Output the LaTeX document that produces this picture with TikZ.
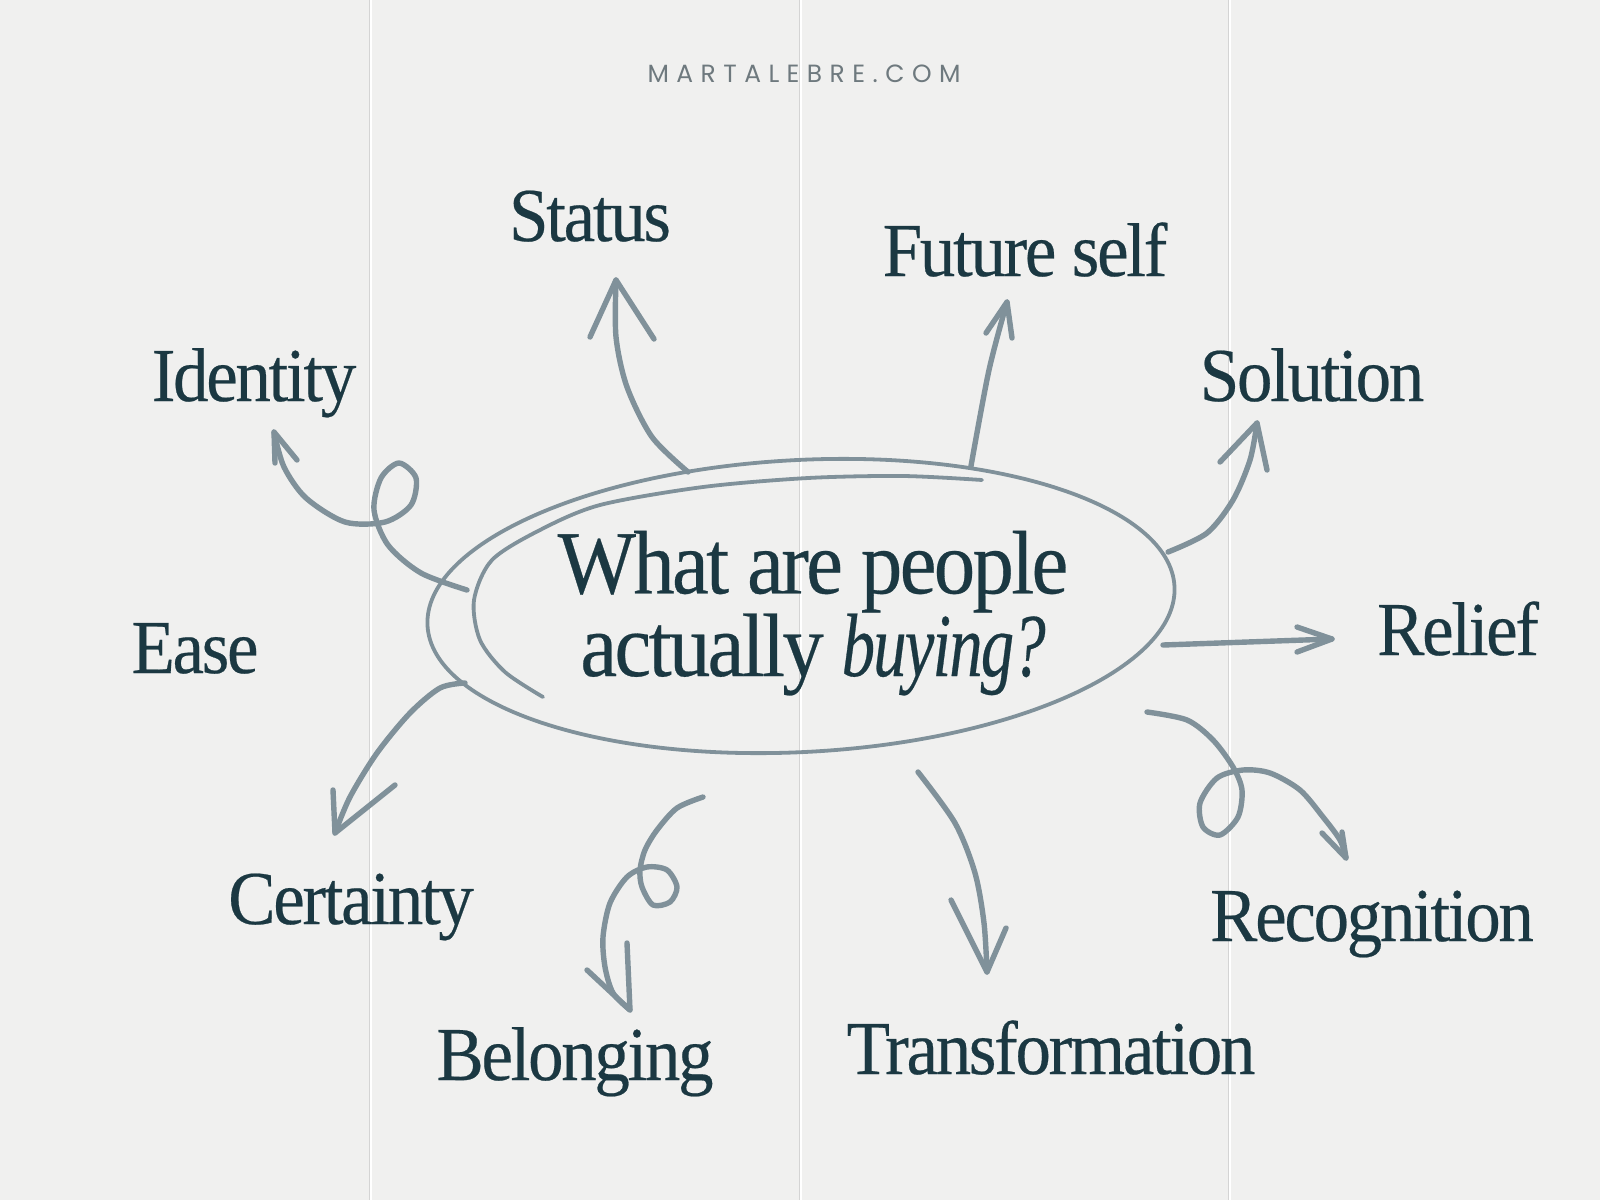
\documentclass[tikz,border=0pt]{standalone}
\usepackage{fontspec}
\newfontfamily\labfont[FakeStretch=0.93, LetterSpace=-3, FakeBold=0.3]{Liberation Serif}
\newfontfamily\qfont[FakeStretch=0.92, LetterSpace=-3, FakeBold=0.3]{Liberation Serif}
\newfontfamily\qitfont[FakeStretch=0.74, LetterSpace=-2, FakeBold=0.3]{Liberation Serif}
\newfontfamily\sitefont[LetterSpace=30]{Poppins}
\definecolor{ink}{RGB}{27,56,66}
\definecolor{penc}{RGB}{128,145,154}
\definecolor{paper}{RGB}{240,240,239}
\definecolor{sitec}{RGB}{110,121,126}
\definecolor{foldc}{RGB}{212,212,212}
\begin{document}
\begin{tikzpicture}[x=1bp,y=-1bp,
  lab/.style={font=\labfont\fontsize{76.5}{80}\selectfont, text=ink, inner sep=0pt, anchor=base},
  qtxt/.style={font=\qfont\fontsize{90.4}{79}\selectfont, text=ink, inner sep=0pt, align=center},
  arrowline/.style={draw=penc, line width=5.4bp, line cap=round, line join=round},
  ring/.style={draw=penc, line width=3.8bp, line cap=round},
  foldline/.style={draw=foldc, line width=1bp},
  foldlight/.style={draw=white, line width=2bp},
]
% paper
\fill[paper] (0,0) rectangle (1600,1200);
\useasboundingbox (0,0) rectangle (1600,1200);
\draw[foldlight] (371,0) -- (371,1200);
\draw[foldline] (369,0) -- (369,1200);
\draw[foldlight] (801,0) -- (801,1200);
\draw[foldline] (799,0) -- (799,1200);
\draw[foldlight] (1230,0) -- (1230,1200);
\draw[foldline] (1228,0) -- (1228,1200);

% header
\node[font=\sitefont\fontsize{25}{26}\selectfont, text=sitec, inner sep=0pt, anchor=base] (site) at (804,82) {MARTALEBRE.COM};

% central question (base anchor = baseline of the last line)
\node[qtxt, anchor=base] (q) at (813,676) {What are people\\actually {\qitfont\itshape buying?}};

% labels
\node[lab] (status)  at (590,241)  {Status};
\node[lab] (future)  at (1025,276) {Future self};
\node[lab] (identity) at (254,401) {Identity};
\node[lab] (solution) at (1312,401) {Solution};
\node[lab] (ease)    at (195,673)  {Ease};
\node[lab] (relief)  at (1458,655) {Relief};
\node[lab] (certainty) at (351,924) {Certainty};
\node[lab] (recog)   at (1372,941) {Recognition};
\node[lab] (belong)  at (575,1080) {Belonging};
\node[lab] (transf)  at (1051,1074) {Transformation};

% ellipse around the question
\coordinate (ec) at (801,606);
\draw[ring, rotate around={3:(ec)}] (ec) ellipse [x radius=374, y radius=146];
\draw[ring] plot[smooth] coordinates {(982,480) (903,476) (808,478) (703,487) (600,505) (540,530) (492,560) (474,600) (480,640) (505,672) (543,697)};

% Identity
\coordinate (idS) at (467,590); \coordinate (idT) at (274,432);
\draw[arrowline] plot[smooth] coordinates {(idS) (421,573) (388,545) (374,510) (381,478) (399,463) (416,478) (411,505) (385,522) (345,522) (306,498) (284,467) (idT)};
\draw[arrowline] (275,463) -- (idT) -- (297,460);

% Status
\coordinate (stS) at (688,472); \coordinate (stT) at (616,280);
\draw[arrowline] plot[smooth] coordinates {(stS) (652,437) (627,387) (616,337) (stT)};
\draw[arrowline] (590,337) -- (stT) -- (654,339);

% Future self
\coordinate (fuS) at (971,466); \coordinate (fuT) at (1007,302);
\draw[arrowline] plot[smooth] coordinates {(fuS) (989,370) (fuT)};
\draw[arrowline] (986,333) -- (fuT) -- (1012,338);

% Solution
\coordinate (soS) at (1168,552); \coordinate (soT) at (1257,423);
\draw[arrowline] plot[smooth] coordinates {(soS) (1207,533) (1233,500) (1250,460) (soT)};
\draw[arrowline] (1220,462) -- (soT) -- (1267,470);

% Relief
\coordinate (reS) at (1163,645); \coordinate (reT) at (1332,639);
\draw[arrowline] (reS) -- (reT);
\draw[arrowline] (1297,627) -- (reT) -- (1297,652);

% Recognition
\coordinate (rcS) at (1147,712); \coordinate (rcT) at (1346,858);
\draw[arrowline] plot[smooth] coordinates {(rcS) (1187,720) (1213,740) (1233,767) (1242,790) (1238,817) (1220,835) (1203,827) (1200,803) (1217,778) (1243,770) (1270,773) (1300,790) (1323,817) (1340,840) (rcT)};
\draw[arrowline] (1322,833) -- (rcT) -- (1342,832);

% Certainty
\coordinate (ceS) at (465,683); \coordinate (ceT) at (335,833);
\draw[arrowline] plot[smooth] coordinates {(ceS) (440,688) (410,713) (377,753) (350,797) (ceT)};
\draw[arrowline] (333,790) -- (ceT) -- (395,785);

% Belonging
\coordinate (beS) at (703,797); \coordinate (beT) at (630,1010);
\draw[arrowline] plot[smooth] coordinates {(beS) (677,808) (657,830) (645,850) (640,870) (642,887) (653,905) (670,902) (677,887) (667,870) (647,867) (627,877) (610,903) (603,937) (605,967) (613,993) (beT)};
\draw[arrowline] (587,970) -- (beT) -- (627,943);

% Transformation
\coordinate (trS) at (918,772); \coordinate (trT) at (987,972);
\draw[arrowline] plot[smooth] coordinates {(trS) (955,823) (975,873) (984,923) (trT)};
\draw[arrowline] (951,900) -- (trT) -- (1006,928);
\end{tikzpicture}
\end{document}
